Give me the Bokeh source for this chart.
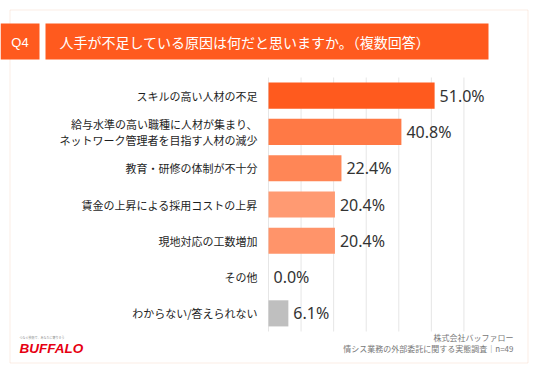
from bokeh.plotting import figure
from bokeh.models import ColumnDataSource, Range1d, BoxAnnotation, Label
from bokeh.core.properties import value
from bokeh.embed import file_html
from bokeh.resources import INLINE

# ---- data ----
categories = [
    "スキルの高い人材の不足",
    "給与水準の高い職種に人材が集まり、\nネットワーク管理者を目指す人材の減少",
    "教育・研修の体制が不十分",
    "賃金の上昇による採用コストの上昇",
    "現地対応の工数増加",
    "その他",
    "わからない/答えられない",
]
values = [51.0, 40.8, 22.4, 20.4, 20.4, 0.0, 6.1]
bar_colors = ["#FF5A1E", "#FF7945", "#FF8656", "#FF9A72", "#FF946A", "#FF946A", "#BFBFBF"]
grid_ticks = [0, 10, 20, 30, 40, 50, 60]

title_q = "Q4"
title_text = "人手が不足している原因は何だと思いますか。（複数回答）"
footer1 = "株式会社バッファロー"
footer2 = "情シス業務の外部委託に関する実態調査｜n=49"
logo_tag = "つなぐ技術で、あなたに寄りそう"
logo = "BUFFALO"

# ---- layout (pixels) ----
W, H = 530, 365
PX0, PX1 = 268, 496          # pixel span of value axis 0..XMAX
XMAX = 70
PY0, PY1 = 77, 331           # pixel span of category rows

n = len(categories)
idx = list(range(n))
k = (PX1 - PX0) / XMAX
rh = (PY1 - PY0) / n
x_range = Range1d(-PX0 / k, (W - PX0) / k)
y_range = Range1d((H - PY0) / rh - 0.5, -PY0 / rh - 0.5)

labels = [f"{v:.1f}%" for v in values]
src = ColumnDataSource(dict(i=idx, cat=categories, val=values, color=bar_colors, label=labels))

p = figure(width=W, height=H, output_backend="svg", toolbar_location=None,
           x_range=x_range, y_range=y_range,
           x_axis_location=None, y_axis_location=None, min_border=0)
p.outline_line_color = None
p.background_fill_color = "white"
p.border_fill_color = "white"
p.xgrid.visible = False
p.ygrid.visible = False

# frame border & header boxes (canvas pixels)
def cbox(l, r, t, b, **kw):
    return BoxAnnotation(left=l, right=r, top=t, bottom=b,
                         left_units="canvas", right_units="canvas",
                         top_units="canvas", bottom_units="canvas", **kw)

p.add_layout(cbox(9.5, 527.5, 9.5, 362.5, fill_alpha=0, line_color="#EDC3A8", line_width=1, level="underlay"))
p.add_layout(cbox(0, 39, 23, 59, fill_color="#FF5A1E", fill_alpha=1, line_color=None))
p.add_layout(cbox(45, 488, 23, 59, fill_color="#FF5A1E", fill_alpha=1, line_color=None))

# grid lines over the row span
p.segment(x0=grid_ticks, x1=grid_ticks, y0=[-0.5] * len(grid_ticks), y1=[n - 0.5] * len(grid_ticks),
          line_color="#E6E6E6", line_width=1)

p.hbar(y="i", right="val", left=0, height=0.72, color="color", line_color=None, source=src)
p.text(x="val", y="i", text="label", x_offset=5, source=src,
       text_baseline="middle", text_align="left",
       text_font=value("Noto Sans"), text_font_size="16px", text_color="#333333")
p.text(x=0, y="i", text="cat", x_offset=-11, source=src,
       text_baseline="middle", text_align="right", text_line_height=1.05,
       text_font=value("Noto Sans CJK JP"), text_font_size="11px", text_color="#1E1E1E")

def clabel(x, y, text, **kw):
    return Label(x=x, y=y, x_units="canvas", y_units="canvas", text=text,
                 text_baseline="middle", **kw)

p.add_layout(clabel(19.5, 41.5, title_q, text_align="center",
                    text_font="Liberation Sans", text_font_size="13px", text_color="white"))
p.add_layout(clabel(59, 41.5, title_text, text_align="left",
                    text_font="Noto Sans CJK JP", text_font_size="14px", text_color="white"))
p.add_layout(clabel(513, 337, footer1, text_align="right",
                    text_font="Noto Sans CJK JP", text_font_size="8px", text_color="#777777"))
p.add_layout(clabel(513, 348, footer2, text_align="right",
                    text_font="Noto Sans CJK JP", text_font_size="8px", text_color="#777777"))
p.add_layout(clabel(19, 337, logo_tag, text_align="left",
                    text_font="Noto Sans CJK JP", text_font_size="3px", text_color="#888888"))
p.add_layout(clabel(19, 347.5, logo, text_align="left",
                    text_font="Liberation Sans", text_font_style="bold italic",
                    text_font_size="13.5px", text_color="#E60012"))

open("out.html", "w").write(file_html(p, INLINE))
